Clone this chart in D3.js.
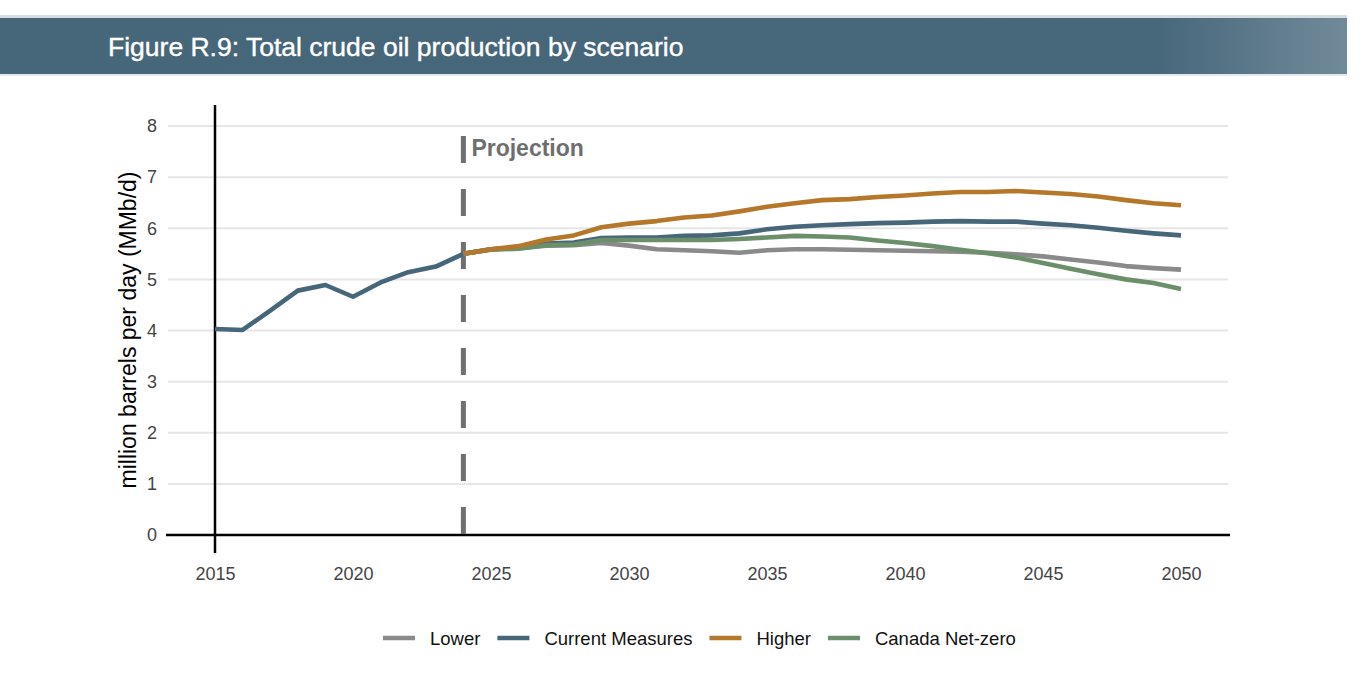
<!DOCTYPE html>
<html>
<head>
<meta charset="utf-8">
<script src="https://cdn.jsdelivr.net/npm/d3@7"></script>
<style>
  body { margin: 0; background: #fff; }
  svg { display: block; font-family: "Liberation Sans", Arial, sans-serif; }
</style>
</head>
<body>
<svg id="chart" width="1365" height="677"></svg>
<script>
// historical, 2015-2024
var histYears = [2015, 2016, 2017, 2018, 2019, 2020, 2021, 2022, 2023, 2024];
var histValues = [4.03, 4.01, 4.39, 4.78, 4.89, 4.66, 4.94, 5.14, 5.25, 5.50];

// projections, 2024-2050
var projYears = d3.range(2024, 2051);
var lower =   [5.50, 5.59, 5.61, 5.66, 5.67, 5.71, 5.66, 5.59, 5.57, 5.55, 5.52, 5.57, 5.59, 5.59, 5.58, 5.57, 5.56, 5.55, 5.54, 5.52, 5.49, 5.45, 5.39, 5.33, 5.26, 5.22, 5.19];
var current = [5.50, 5.59, 5.62, 5.70, 5.72, 5.81, 5.82, 5.82, 5.85, 5.86, 5.90, 5.98, 6.03, 6.06, 6.08, 6.10, 6.11, 6.13, 6.14, 6.13, 6.13, 6.09, 6.06, 6.01, 5.95, 5.90, 5.86];
var higher =  [5.50, 5.59, 5.65, 5.78, 5.86, 6.02, 6.09, 6.14, 6.21, 6.25, 6.33, 6.42, 6.49, 6.55, 6.57, 6.61, 6.64, 6.68, 6.71, 6.71, 6.73, 6.70, 6.67, 6.62, 6.55, 6.49, 6.45];
var netZero = [5.50, 5.58, 5.60, 5.67, 5.68, 5.77, 5.77, 5.77, 5.77, 5.77, 5.79, 5.82, 5.85, 5.84, 5.82, 5.76, 5.71, 5.65, 5.58, 5.51, 5.43, 5.32, 5.21, 5.10, 5.00, 4.93, 4.81];

var xTicks = [2015, 2020, 2025, 2030, 2035, 2040, 2045, 2050];
var yTicks = [0, 1, 2, 3, 4, 5, 6, 7, 8];
var projectionYear = 2024;

var scenarios = [
  { name: "Lower", values: lower, color: "#8a8a8a" },
  { name: "Current Measures", values: current, color: "#46667a" },
  { name: "Higher", values: higher, color: "#b5782a" },
  { name: "Canada Net-zero", values: netZero, color: "#6b8f6b" }
];
// drawing order (top last)
var drawOrder = ["Lower", "Current Measures", "Canada Net-zero", "Higher"];

var svg = d3.select("#chart");

// header band
var defs = svg.append("defs");
var grad = defs.append("linearGradient").attr("id", "hdr").attr("x1", "0%").attr("x2", "100%");
grad.append("stop").attr("offset", "0%").attr("stop-color", "#46667a");
grad.append("stop").attr("offset", "86%").attr("stop-color", "#47677b");
grad.append("stop").attr("offset", "100%").attr("stop-color", "#718a99");

svg.append("rect").attr("x", 0).attr("y", 15).attr("width", 1347).attr("height", 3).attr("fill", "#d6dee4");
svg.append("rect").attr("x", 0).attr("y", 18).attr("width", 1347).attr("height", 56).attr("fill", "url(#hdr)");
svg.append("rect").attr("x", 0).attr("y", 74).attr("width", 1347).attr("height", 2).attr("fill", "#e4e9ed");
svg.append("text")
  .attr("x", 108).attr("y", 56)
  .attr("fill", "#fff")
  .attr("stroke", "#fff").attr("stroke-width", 0.4)
  .style("font-size", "26.5px")
  .text("Figure R.9: Total crude oil production by scenario");

// scales
var x = d3.scaleLinear().domain([2015, 2050]).range([215, 1181]);
var y = d3.scaleLinear().domain([0, 8]).range([535, 126]);

// gridlines
svg.append("g").selectAll("line")
  .data(yTicks.slice(1))
  .join("line")
  .attr("x1", 168).attr("x2", 1228)
  .attr("y1", d => y(d)).attr("y2", d => y(d))
  .attr("stroke", "#e6e6e6").attr("stroke-width", 2);

// y axis labels
var yAxis = svg.append("g")
  .attr("transform", "translate(168,0)")
  .call(d3.axisLeft(y).tickValues(yTicks).tickSize(0).tickPadding(11));
yAxis.select(".domain").remove();
yAxis.selectAll("text").attr("fill", "#444").style("font-size", "18px").style("font-family", "Liberation Sans, Arial, sans-serif");

// x axis labels
var xAxis = svg.append("g")
  .attr("transform", "translate(0,535)")
  .call(d3.axisBottom(x).tickValues(xTicks).tickFormat(d3.format("d")).tickSize(0).tickPadding(32));
xAxis.select(".domain").remove();
xAxis.selectAll("text").attr("fill", "#444").style("font-size", "18px").style("font-family", "Liberation Sans, Arial, sans-serif");

// axis lines
svg.append("line").attr("x1", 166).attr("x2", 1230).attr("y1", y(0)).attr("y2", y(0))
  .attr("stroke", "#000").attr("stroke-width", 2.5);
svg.append("line").attr("x1", x(2015)).attr("x2", x(2015)).attr("y1", 105).attr("y2", 553)
  .attr("stroke", "#000").attr("stroke-width", 2.5);

// y title
svg.append("text")
  .attr("transform", "translate(136,330) rotate(-90)")
  .attr("text-anchor", "middle")
  .attr("fill", "#000")
  .style("font-size", "23px")
  .text("million barrels per day (MMb/d)");

// projection marker
svg.append("line")
  .attr("x1", x(projectionYear)).attr("x2", x(projectionYear))
  .attr("y1", 136).attr("y2", y(0))
  .attr("stroke", "#707070").attr("stroke-width", 5)
  .attr("stroke-dasharray", "27,26");
svg.append("text")
  .attr("x", x(projectionYear) + 8).attr("y", 156)
  .attr("fill", "#6e6e6e")
  .style("font-size", "23px")
  .style("font-weight", "bold")
  .text("Projection");

// lines
var line = d3.line()
  .x(d => x(d[0]))
  .y(d => y(d[1]));

var lines = svg.append("g").attr("fill", "none").attr("stroke-width", 4.6)
  .attr("stroke-linejoin", "round").attr("stroke-linecap", "butt");

lines.append("path")
  .datum(d3.zip(histYears, histValues))
  .attr("stroke", "#46667a")
  .attr("d", line);

drawOrder.forEach(function (nm) {
  var s = scenarios.find(d => d.name == nm);
  lines.append("path")
    .datum(d3.zip(projYears, s.values))
    .attr("stroke", s.color)
    .attr("d", line);
});

// legend
var legend = svg.append("g").attr("transform", "translate(383,638)");
var lx = 0;
scenarios.forEach(function (s) {
  var g = legend.append("g").attr("transform", "translate(" + lx + ",0)");
  g.append("line").attr("x1", 0).attr("x2", 32).attr("y1", 0).attr("y2", 0)
    .attr("stroke", s.color).attr("stroke-width", 4.5);
  var t = g.append("text").attr("x", 47).attr("y", 6.5)
    .attr("fill", "#111").style("font-size", "18.5px").text(s.name);
  lx += 47 + t.node().getComputedTextLength() + 17;
});
</script>
</body>
</html>
